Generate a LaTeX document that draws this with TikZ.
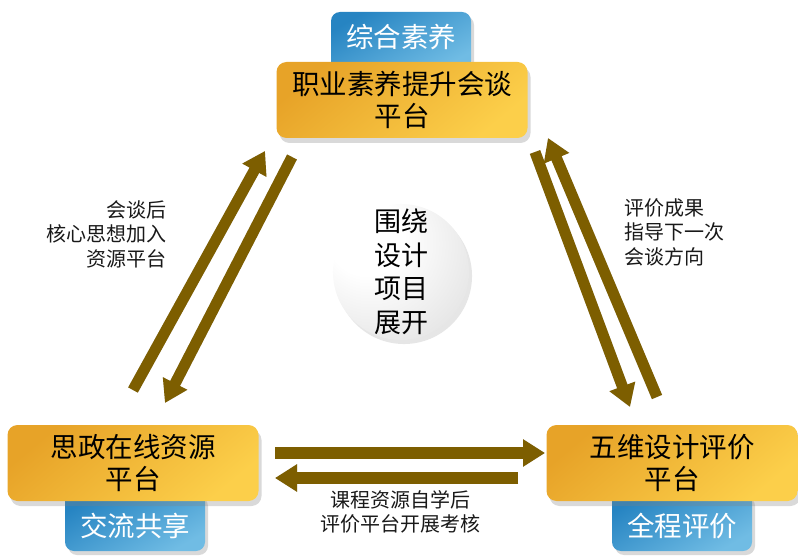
\documentclass[tikz,border=0pt]{standalone}
\usepackage{fontspec}
\setmainfont{Noto Sans CJK SC}
\usetikzlibrary{arrows.meta,shadows}
\definecolor{arrowc}{RGB}{125,94,0}
\definecolor{golddark}{RGB}{231,163,40}
\definecolor{goldlight}{RGB}{252,207,74}
\definecolor{bluedark}{RGB}{38,132,194}
\definecolor{bluelight}{RGB}{112,188,228}
\definecolor{txt}{RGB}{25,25,25}
\pgfdeclareradialshading{sphereshade}{\pgfpoint{-16bp}{16bp}}{color(0bp)=(white); color(14bp)=(white); color(42bp)=(black!12); color(72bp)=(black!38)}
\begin{document}
\begin{tikzpicture}[x=1pt,y=-1pt,
  goldbox/.style={rounded corners=10pt, minimum width=251pt, minimum height=76pt, inner sep=0pt,
    top color=golddark, bottom color=goldlight, shading angle=40,
    drop shadow={shadow xshift=3pt, shadow yshift=-5pt, opacity=.3},
    font=\fontsize{27.5}{32.5}\selectfont, align=center, text=black},
  bluetab/.style={rounded corners=9pt, minimum width=140pt, minimum height=58pt, inner sep=0pt,
    top color=bluedark, bottom color=bluelight, shading angle=30,
    drop shadow={shadow xshift=3pt, shadow yshift=-4pt, opacity=.3},
    font=\fontsize{27.5}{30}\selectfont, text=white},
  arr/.style={line width=11pt, draw=arrowc, -{Triangle[length=22pt,width=26pt]}},
  arrsh/.style={line width=11pt, draw=black, opacity=.18, -{Triangle[length=22pt,width=26pt]}},
  lbl/.style={font=\fontsize{20}{24.5}\selectfont, text=txt}
]
\useasboundingbox (0,0) rectangle (798,556);

% tabs (behind the gold boxes)
\node[bluetab] (tabTop) at (401,41) {\raisebox{4pt}[\height][\depth]{综合素养}};
\node[bluetab] (tabLeft) at (135,522) {\raisebox{-4pt}[\height][\depth]{交流共享}};
\node[bluetab] (tabRight) at (682,522) {\raisebox{-4pt}[\height][\depth]{全程评价}};

% gold boxes
\node[goldbox] (top) at (402,100) {职业素养提升会谈\\平台};
\node[goldbox] (left) at (133,463) {思政在线资源\\平台};
\node[goldbox] (right) at (672,463) {五维设计评价\\平台};

% sphere
\node[circle, minimum size=134pt, inner sep=0pt, shading=sphereshade,
      drop shadow={shadow xshift=3pt, shadow yshift=-4pt, opacity=.2},
      font=\fontsize{27}{33.5}\selectfont, align=center, text=black] (ball) at (401,272)
  {围绕\\设计\\项目\\展开};

% arrow end points
\coordinate (a1s) at (133,390); \coordinate (a1e) at (265,151);
\coordinate (a2s) at (292,157); \coordinate (a2e) at (165,403);
\coordinate (a3s) at (535,152); \coordinate (a3e) at (630,407);
\coordinate (a4s) at (657,397); \coordinate (a4e) at (548,138);
\coordinate (a5s) at (275,453); \coordinate (a5e) at (545,453);
\coordinate (a6s) at (518,478); \coordinate (a6e) at (275,478);

% arrow shadows
\begin{scope}[shift={(3,3)}]
\draw[arrsh] (a1s) -- (a1e);
\draw[arrsh] (a2s) -- (a2e);
\draw[arrsh] (a3s) -- (a3e);
\draw[arrsh] (a4s) -- (a4e);
\draw[arrsh] (a5s) -- (a5e);
\draw[arrsh] (a6s) -- (a6e);
\end{scope}
% arrows
\draw[arr] (a1s) -- (a1e);
\draw[arr] (a2s) -- (a2e);
\draw[arr] (a3s) -- (a3e);
\draw[arr] (a4s) -- (a4e);
\draw[arr, line width=12.5pt] (a5s) -- (a5e);
\draw[arr, line width=12.5pt] (a6s) -- (a6e);

% labels
\node[lbl, anchor=east, align=right] (lblL) at (170,234) {会谈后\\核心思想加入\\资源平台};
\node[lbl, anchor=west, align=left] (lblR) at (621,232) {评价成果\\指导下一次\\会谈方向};
\node[lbl, align=center] (lblB) at (400,512) {课程资源自学后\\评价平台开展考核};
\end{tikzpicture}
\end{document}
